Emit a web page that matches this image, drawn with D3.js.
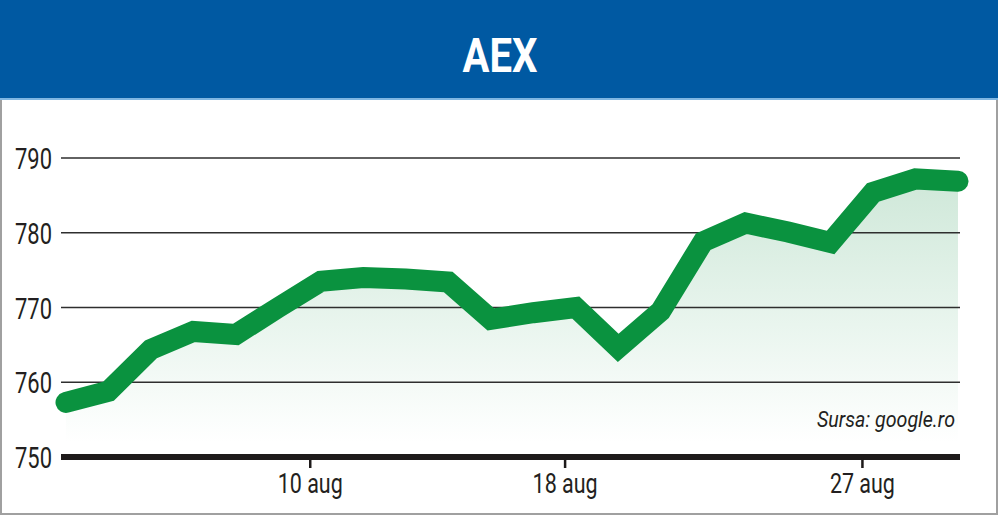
<!DOCTYPE html>
<html>
<head>
<meta charset="utf-8">
<script src="https://cdn.jsdelivr.net/npm/d3@7"></script>
<style>
  html, body { margin: 0; padding: 0; background: #fff; }
  svg { display: block; }
  .cond { font-family: "Roboto", "Noto Sans", sans-serif; }
</style>
</head>
<body>
<svg id="chart" width="1000" height="516"></svg>
<script>
// ---- data ----
const title = "AEX";
const source = "Sursa: google.ro";
const dates = ["2 aug","3 aug","4 aug","5 aug","6 aug","9 aug","10 aug","11 aug","12 aug","13 aug",
               "16 aug","17 aug","18 aug","19 aug","20 aug","23 aug","24 aug","25 aug","26 aug","27 aug",
               "30 aug","31 aug"];
const values = [757.3, 758.8, 764.4, 766.8, 766.4, 770.0, 773.5, 774.0, 773.8, 773.4,
                768.4, 769.3, 770.0, 764.6, 769.5, 778.8, 781.3, 780.1, 778.7, 785.4,
                787.2, 786.9];
const yTicks = [750, 760, 770, 780, 790];
const xTickLabels = ["10 aug", "18 aug", "27 aug"];

// ---- layout ----
const W = 1000, H = 516;
const svg = d3.select("#chart");
const plotL = 61, plotR = 960;
const x = d3.scaleLinear().domain([0, values.length - 1]).range([66, 958]);
const y = d3.scaleLinear().domain([750, 790]).range([457, 158]);
const tickShift = -0.25;

// compress text horizontally to mimic a condensed face
function condense(sel, ref) {
  let k = null;
  sel.each(function () {
    const n = this.getComputedTextLength();
    if (k === null) k = ref / n;
    d3.select(this).attr("textLength", n * k).attr("lengthAdjust", "spacingAndGlyphs");
  });
}

// frame
svg.append("rect").attr("x", 1).attr("y", 1).attr("width", W - 4).attr("height", H - 3)
  .attr("fill", "#fff").attr("stroke", "#a0a0a0").attr("stroke-width", 2);

// header
svg.append("rect").attr("x", 0).attr("y", 0).attr("width", W - 2).attr("height", 99).attr("fill", "#0059a2");
svg.append("rect").attr("x", 0).attr("y", 98).attr("width", W - 2).attr("height", 2).attr("fill", "#7fb6e2");
const t = svg.append("text").attr("class", "cond").attr("x", 500).attr("y", 72)
  .attr("text-anchor", "middle").attr("fill", "#fff").attr("font-weight", "bold")
  .attr("font-size", 49).text(title);
condense(t, 75);

// gradient fill
const defs = svg.append("defs");
const grad = defs.append("linearGradient").attr("id", "fillGrad")
  .attr("gradientUnits", "userSpaceOnUse").attr("x1", 0).attr("x2", 0).attr("y1", y(787)).attr("y2", y(752));
grad.append("stop").attr("offset", 0).attr("stop-color", "#cfe8d9");
grad.append("stop").attr("offset", 0.55).attr("stop-color", "#e9f5ee");
grad.append("stop").attr("offset", 1).attr("stop-color", "#ffffff");

const area = d3.area().x((d, i) => x(i)).y0(y(750)).y1(d => y(d));
svg.append("path").datum(values).attr("d", area).attr("fill", "url(#fillGrad)");

// gridlines
svg.append("g").selectAll("line").data(yTicks.filter(t => t > 750)).join("line")
  .attr("x1", plotL).attr("x2", plotR).attr("y1", d => y(d)).attr("y2", d => y(d))
  .attr("stroke", "#2e2e2e").attr("stroke-width", 1.6);

// y labels
const yl = svg.append("g").selectAll("text").data(yTicks).join("text")
  .attr("class", "cond").attr("x", 52).attr("y", d => y(d) + 11)
  .attr("text-anchor", "end").attr("font-size", 30).attr("fill", "#231f20")
  .text(d => d);
condense(yl, 37);

// baseline
svg.append("line").attr("x1", plotL).attr("x2", plotR).attr("y1", y(750)).attr("y2", y(750))
  .attr("stroke", "#1e1a1a").attr("stroke-width", 6);

// x ticks
const xt = xTickLabels.map(l => dates.indexOf(l));
svg.append("g").selectAll("line").data(xt).join("line")
  .attr("x1", d => x(d + tickShift)).attr("x2", d => x(d + tickShift))
  .attr("y1", y(750)).attr("y2", y(750) + 11)
  .attr("stroke", "#1e1a1a").attr("stroke-width", 2.5);
const xl = svg.append("g").selectAll("text").data(xt).join("text")
  .attr("class", "cond").attr("x", d => x(d + tickShift)).attr("y", 493)
  .attr("text-anchor", "middle").attr("font-size", 28).attr("fill", "#231f20")
  .text(d => dates[d]);
condense(xl, 65);

// line
const line = d3.line().x((d, i) => x(i)).y(d => y(d));
svg.append("path").datum(values).attr("d", line)
  .attr("fill", "none").attr("stroke", "#0a923f").attr("stroke-width", 21)
  .attr("stroke-linecap", "round").attr("stroke-linejoin", "miter");

// source
const s = svg.append("text").attr("class", "cond").attr("x", 955).attr("y", 427)
  .attr("text-anchor", "end").attr("font-style", "italic").attr("font-size", 22)
  .attr("fill", "#231f20").text(source);
condense(s, 138);
</script>
</body>
</html>
